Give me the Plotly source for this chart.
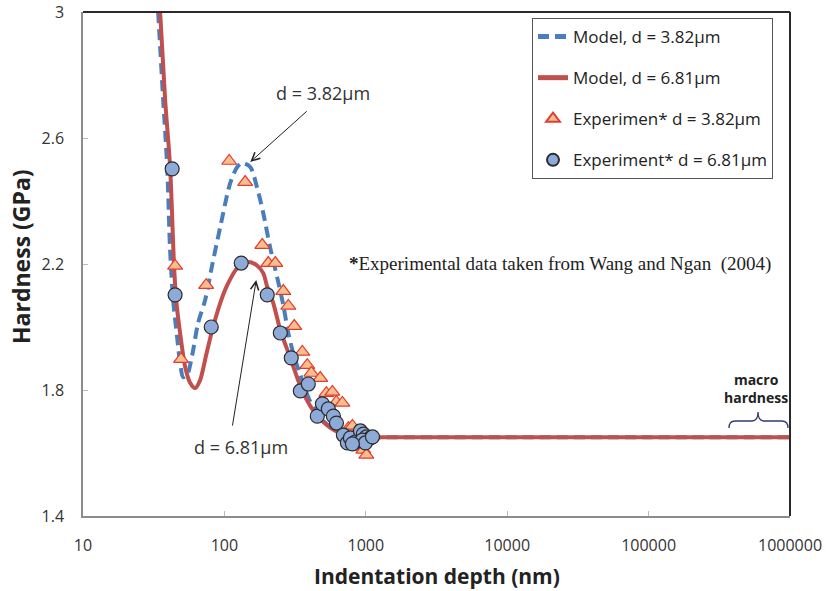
import plotly.graph_objects as go

# Model curves: hardness (GPa) vs indentation depth (nm)
model_382_depth = [34.0, 36.9, 39.4, 41.3, 43.4, 46.3, 48.6, 51.1, 54.5, 59.2, 65.2, 73.1,
                   82.0, 93.4, 109.9, 123.3, 133.7, 152.4, 170.6, 188.2, 211, 236.6, 260.8,
                   283.1, 312, 344.3, 405.5, 501, 630, 871, 1169, 3000, 10000, 100000, 1000000]
model_382_hard = [3.0, 2.721, 2.508, 2.244, 2.086, 1.968, 1.886, 1.841, 1.848, 1.911, 2.013, 2.086,
                  2.197, 2.317, 2.457, 2.508, 2.521, 2.508, 2.441, 2.362, 2.251, 2.156, 2.070,
                  1.981, 1.905, 1.848, 1.762, 1.702, 1.667, 1.652, 1.65, 1.65, 1.65, 1.65, 1.65]

model_681_depth = [35.1, 38.1, 41.3, 44.1, 45.6, 48.6, 52.8, 57.3, 62.1, 67.4, 74.3, 82.0,
                   93.4, 104.7, 123.3, 147.5, 167.9, 188.2, 200.9, 221.6, 248.5, 292.4, 344.3,
                   405.5, 501, 630, 871, 1169, 3000, 10000, 100000, 1000000]
model_681_hard = [3.0, 2.721, 2.508, 2.190, 2.086, 1.981, 1.873, 1.822, 1.806, 1.832, 1.911, 1.990,
                  2.076, 2.133, 2.187, 2.206, 2.197, 2.171, 2.127, 2.076, 1.990, 1.902, 1.813,
                  1.749, 1.698, 1.667, 1.652, 1.65, 1.65, 1.65, 1.65, 1.65]

# Experimental data (Wang and Ngan, 2004)
exp_382_depth = [44.8, 49.4, 74.3, 108.1, 140.3, 185.3, 204.3, 229.1, 260.8, 283.1, 312, 355.6,
                 385.5, 412, 476, 526, 580, 619, 683, 753, 804, 871, 916, 961, 1009]
exp_382_hard = [2.194, 1.898, 2.133, 2.527, 2.460, 2.260, 2.203, 2.203, 2.114, 2.067, 2.003, 1.921,
                1.879, 1.854, 1.838, 1.790, 1.794, 1.762, 1.759, 1.679, 1.686, 1.635, 1.619, 1.610, 1.594]

exp_681_depth = [42.7, 44.8, 80.7, 131.5, 200.9, 248.5, 297, 344.3, 392, 454, 493, 543, 590,
                 620, 694, 741, 778, 844, 916, 961, 1009, 1079, 946, 993, 1115, 804]
exp_681_hard = [2.502, 2.102, 2.0, 2.203, 2.102, 1.981, 1.902, 1.797, 1.819, 1.717, 1.756, 1.740,
                1.717, 1.695, 1.657, 1.632, 1.648, 1.635, 1.670, 1.660, 1.651, 1.648, 1.641, 1.632,
                1.651, 1.629]

x_tick_vals = [10, 100, 1000, 10000, 100000, 1000000]
x_tick_text = ["10", "100", "1000", "10000", "100000", "1000000"]
y_tick_vals = [1.4, 1.8, 2.2, 2.6, 3.0]
y_tick_text = ["1.4", "1.8", "2.2", "2.6", "3"]

SANS = "Open Sans, Lato, sans-serif"
BLUE = "#4A7EBB"
RED = "#C0504D"

fig = go.Figure()

fig.add_trace(go.Scatter(
    x=model_382_depth, y=model_382_hard, mode="lines", name="Model, d = 3.82µm",
    line=dict(color=BLUE, width=4, dash="11px,6px", shape="spline", smoothing=0.8),
    legendgroup="a"))
fig.add_trace(go.Scatter(
    x=model_681_depth, y=model_681_hard, mode="lines", name="Model, d = 6.81µm",
    line=dict(color=RED, width=4, shape="spline", smoothing=0.8),
    legendgroup="b"))
fig.add_trace(go.Scatter(
    x=exp_382_depth, y=exp_382_hard, mode="markers", name="Experimen* d = 3.82µm",
    marker=dict(symbol="triangle-up", size=13, color="#F9BE8C",
                line=dict(color="#E03C31", width=1.2)),
    legendgroup="c"))
fig.add_trace(go.Scatter(
    x=exp_681_depth, y=exp_681_hard, mode="markers", name="Experiment* d = 6.81µm",
    marker=dict(symbol="circle", size=14, color="#8EAAD9",
                line=dict(color="#2B2B2B", width=1.2)),
    legendgroup="d"))


def px_x(p):
    return (p - 83) / 707


def px_y(p):
    return (516 - p) / 504


annotations = [
    # pointer to the d = 3.82 peak
    dict(x=2.183, y=2.524, xref="x", yref="y", ax=58, ay=-52, text="",
         showarrow=True, arrowhead=5, arrowsize=1.6, arrowwidth=1, arrowcolor="#222"),
    dict(x=2.700, y=2.743, xref="x", yref="y", xanchor="center", yanchor="middle",
         text="d = 3.82µm", showarrow=False,
         font=dict(family=SANS, size=18, color="#333")),
    # pointer to the d = 6.81 peak
    dict(x=2.225, y=2.149, xref="x", yref="y", ax=-24, ay=147, text="",
         showarrow=True, arrowhead=5, arrowsize=1.6, arrowwidth=1, arrowcolor="#222"),
    dict(x=2.119, y=1.619, xref="x", yref="y", xanchor="center", yanchor="middle",
         text="d = 6.81µm", showarrow=False,
         font=dict(family=SANS, size=18, color="#333")),
    # data source note
    dict(x=px_x(347), y=2.2, xref="paper", yref="y", xanchor="left", yanchor="middle",
         text="<b>*</b>Experimental data taken from Wang and Ngan  (2004)", showarrow=False,
         font=dict(family="Liberation Serif, serif", size=19, color="#222")),
    # macro hardness label
    dict(x=px_x(756), y=px_y(388), xref="paper", yref="paper",
         xanchor="center", yanchor="middle",
         text="<b>macro<br>hardness</b>", showarrow=False,
         font=dict(family=SANS, size=14, color="#222")),
    # axis titles
    dict(x=0.5, y=px_y(576), xref="paper", yref="paper", xanchor="center", yanchor="middle",
         text="<b>Indentation depth (nm)</b>", showarrow=False,
         font=dict(family=SANS, size=21, color="#222")),
    dict(x=px_x(21), y=px_y(257), xref="paper", yref="paper", xanchor="center",
         yanchor="middle", textangle=-90,
         text="<b>Hardness (GPa)</b>", showarrow=False,
         font=dict(family=SANS, size=23, color="#222")),
]

brace = ("M {a},{b0} Q {a},{b1} {c},{b1} L {d},{b1} Q {m},{b1} {m},{t} "
         "Q {m},{b1} {e},{b1} L {f},{b1} Q {g},{b1} {g},{b0}").format(
    a=px_x(729), c=px_x(735), d=px_x(752), m=px_x(758), e=px_x(764), f=px_x(782), g=px_x(788),
    b0=px_y(428), b1=px_y(421), t=px_y(412))

shapes = [
    dict(type="path", path=brace, xref="paper", yref="paper",
         line=dict(color="#2E3C6E", width=1.3)),
    # dark frame along top and right edges
    dict(type="line", xref="paper", yref="paper", x0=0, x1=1, y0=1, y1=1,
         line=dict(color="#2A2A2A", width=2)),
    dict(type="line", xref="paper", yref="paper", x0=1, x1=1, y0=0, y1=1,
         line=dict(color="#2A2A2A", width=2)),
]

fig.update_layout(
    width=828, height=591,
    margin=dict(l=83, r=38, t=12, b=75, autoexpand=False),
    paper_bgcolor="white", plot_bgcolor="white",
    font=dict(family=SANS, color="#333"),
    showlegend=True,
    legend=dict(x=px_x(532), y=px_y(18), xanchor="left", yanchor="top",
                bgcolor="white", bordercolor="#555", borderwidth=1,
                font=dict(family=SANS, size=17, color="#222"),
                traceorder="grouped", tracegroupgap=16, itemwidth=30,
                itemsizing="constant"),
    annotations=annotations,
    shapes=shapes,
)

fig.update_xaxes(type="log", range=[1, 6], tickvals=x_tick_vals, ticktext=x_tick_text,
                 automargin=False,
                 showgrid=False, zeroline=False, showline=True, linecolor="#8C8C8C",
                 linewidth=1.5, ticks="inside", ticklen=5, tickcolor="#BBBBBB",
                 tickfont=dict(family=SANS, size=16, color="#333"), ticklabelstandoff=14)
fig.update_yaxes(range=[1.4, 3.0], tickvals=y_tick_vals, ticktext=y_tick_text,
                 automargin=False,
                 showgrid=False, zeroline=False, showline=True, linecolor="#8C8C8C",
                 linewidth=1.5, ticks="inside", ticklen=5, tickcolor="#BBBBBB",
                 tickfont=dict(family=SANS, size=16, color="#333"), ticklabelstandoff=14)

fig.write_html("out.html")
